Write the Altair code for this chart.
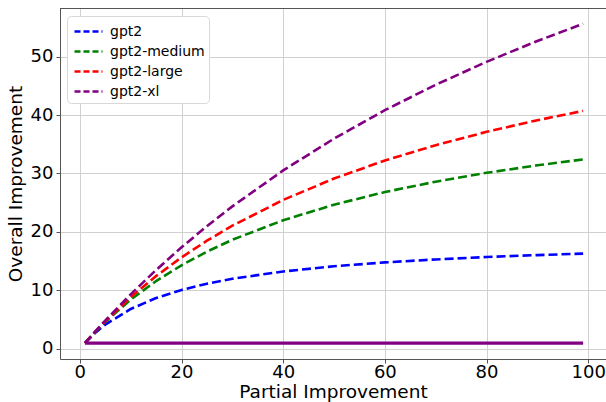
import altair as alt
import pandas as pd

x_vals = [1, 3, 5, 10, 15, 20, 25, 30, 40, 50, 60, 70, 80, 90, 99]
gpt2 = [1.0, 2.72, 4.14, 6.82, 8.70, 10.08, 11.14, 11.99, 13.24, 14.13, 14.79, 15.30, 15.71, 16.04, 16.3]
gpt2_medium = [1.0, 2.88, 4.61, 8.41, 11.60, 14.30, 16.63, 18.66, 22.00, 24.66, 26.82, 28.60, 30.11, 31.40, 32.4]
gpt2_large = [1.0, 2.91, 4.72, 8.84, 12.45, 15.65, 18.50, 21.07, 25.48, 29.13, 32.22, 34.84, 37.12, 39.11, 40.7]
gpt2_xl = [1.0, 2.95, 4.85, 9.33, 13.49, 17.37, 20.99, 24.37, 30.52, 35.96, 40.82, 45.17, 49.09, 52.66, 55.6]
models = ["gpt2", "gpt2-medium", "gpt2-large", "gpt2-xl"]
colors = ["#0000ff", "#008000", "#ff0000", "#800080"]
base_x = [1, 99]
base_y = [1, 1]

rows = []
for i, (m, ys) in enumerate(zip(models, [gpt2, gpt2_medium, gpt2_large, gpt2_xl])):
    for x, y in zip(x_vals, ys):
        rows.append({"x": x, "y": y, "model": m, "ord": i})
df = pd.DataFrame(rows)
base = pd.DataFrame({"x": base_x, "y": base_y})

FONT = "DejaVu Sans"
SPINE = "#555555"
W, H = 546, 351
xscale = alt.Scale(domain=[-3.9, 103.5], nice=False, zero=False)
yscale = alt.Scale(domain=[-1.73, 58.3], nice=False, zero=False)

xaxis = alt.Axis(values=[0, 20, 40, 60, 80, 100], title="Partial Improvement",
                 labelFontSize=18, titleFontSize=18.5, labelColor="#000", titleColor="#000",
                 titleFontWeight="normal", tickSize=4, tickColor=SPINE, domainColor=SPINE,
                 gridColor="#d0d0d0", labelPadding=0, titlePadding=1, labelFlush=False)
yaxis = alt.Axis(values=[0, 10, 20, 30, 40, 50], title="Overall Improvement",
                 labelFontSize=18, titleFontSize=18.5, labelColor="#000", titleColor="#000",
                 titleFontWeight="normal", tickSize=4, tickColor=SPINE, domainColor=SPINE,
                 gridColor="#d0d0d0", labelPadding=3, titlePadding=5, labelFlush=False)

lines = alt.Chart(df).mark_line(strokeWidth=2.6, strokeDash=[9, 4], clip=True).encode(
    x=alt.X("x:Q", scale=xscale, axis=xaxis),
    y=alt.Y("y:Q", scale=yscale, axis=yaxis),
    color=alt.Color("model:N", sort=models,
                    scale=alt.Scale(domain=models, range=colors),
                    legend=alt.Legend(title=None, orient="none", legendX=7, legendY=8,
                                      labelFontSize=14, labelFont=FONT, labelColor="#000",
                                      symbolType="M-0.8,0H2.0", symbolStrokeWidth=2.6,
                                      symbolDash=[6, 3], symbolSize=400,
                                      rowPadding=1, padding=4, cornerRadius=4,
                                      strokeColor="#d8d8d8", fillColor="white",
                                      labelOffset=16)),
    order="ord:Q",
)

baseline = alt.Chart(base).mark_line(strokeWidth=3.2, color="#800080").encode(
    x=alt.X("x:Q", scale=xscale),
    y=alt.Y("y:Q", scale=yscale),
)

# top spine of the frame
top_spine = alt.Chart(base).mark_rule(color=SPINE, strokeWidth=1).encode(
    x=alt.value(0), x2=alt.value(W), y=alt.value(0.5),
)

chart = alt.layer(lines, baseline, top_spine).properties(
    width=W, height=H,
    padding={"left": 60, "top": 8, "right": 0, "bottom": 43},
    autosize=alt.AutoSizeParams(type="none"),
).configure(font=FONT).configure_view(stroke=None)

chart.save("out.html", embed_options={"renderer": "svg", "actions": False})
